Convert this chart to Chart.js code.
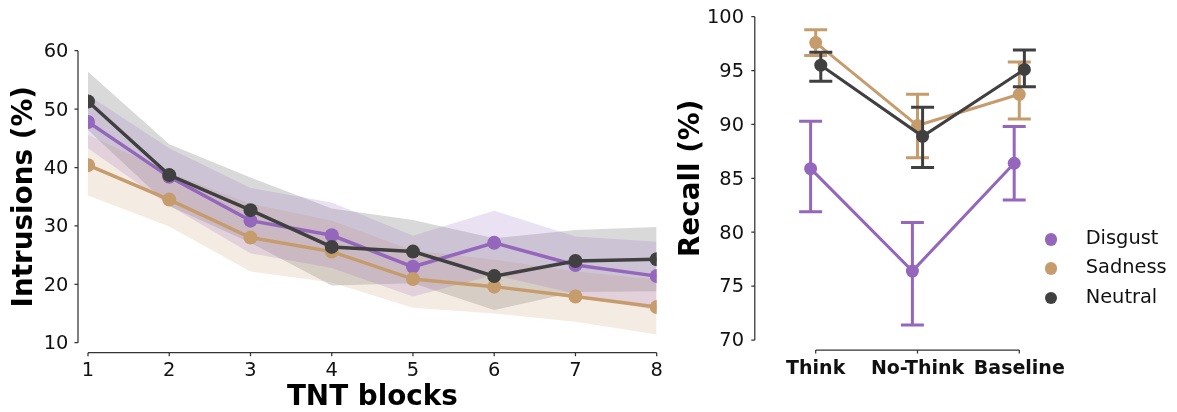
<!DOCTYPE html>
<html><head><meta charset="utf-8">
<script src="https://cdn.jsdelivr.net/npm/chart.js@4.4.1/dist/chart.umd.min.js"></script>
<style>
html,body{margin:0;padding:0;background:#fff;}
#wrap{position:relative;width:1177px;height:412px;overflow:hidden;font-family:'DejaVu Sans',sans-serif;background:#fff;}
canvas{position:absolute;top:0;}
#c1{left:0}
#c2{left:670px}
.lg-row{position:absolute;left:1085.7px;height:23px;line-height:23px;font-size:19.4px;color:#111;white-space:nowrap;}
.lg-dot{position:absolute;left:1044.8px;width:12.5px;height:12.5px;border-radius:50%;}
</style></head>
<body>
<div id="wrap">
<canvas id="c1" width="670" height="412"></canvas>
<canvas id="c2" width="507" height="412"></canvas>
<div id="legend"></div>
</div>
<script>
// ---------- data ----------
const seriesNames = ['Disgust', 'Sadness', 'Neutral'];
const seriesColors = ['#9467bd', '#c69c6d', '#404040'];

// left panel: intrusions per TNT block
const blocks = [1, 2, 3, 4, 5, 6, 7, 8];
const intrusionTicks = [10, 20, 30, 40, 50, 60];
const disgustIntr   = [47.8, 38.4, 30.9, 28.4, 23.0, 27.1, 23.3, 21.4];
const disgustIntrHi = [52.4, 43.3, 36.5, 34.0, 28.3, 32.6, 28.2, 27.3];
const disgustIntrLo = [43.3, 33.5, 25.3, 22.8, 17.9, 21.6, 18.4, 15.5];
const sadnessIntr   = [40.4, 34.5, 28.0, 25.6, 20.9, 19.6, 17.9, 16.1];
const sadnessIntrHi = [45.6, 39.1, 33.8, 30.9, 25.8, 24.2, 22.2, 20.8];
const sadnessIntrLo = [35.2, 29.9, 22.2, 20.3, 16.0, 15.0, 13.6, 11.4];
const neutralIntr   = [51.3, 38.7, 32.7, 26.4, 25.6, 21.4, 24.0, 24.3];
const neutralIntrHi = [56.4, 44.0, 38.3, 33.0, 31.0, 27.9, 29.3, 29.8];
const neutralIntrLo = [46.4, 33.4, 27.1, 19.8, 20.2, 15.6, 18.7, 18.8];

// right panel: recall per condition
const conditions = ['Think', 'No-Think', 'Baseline'];
const recallTicks = [70, 75, 80, 85, 90, 95, 100];
const disgustRecall   = [85.9, 76.4, 86.4];
const disgustRecallHi = [90.3, 80.9, 89.8];
const disgustRecallLo = [81.9, 71.4, 83.0];
const sadnessRecall   = [97.6, 89.9, 92.8];
const sadnessRecallHi = [98.8, 92.8, 95.8];
const sadnessRecallLo = [96.4, 86.9, 90.5];
const neutralRecall   = [95.5, 88.9, 95.1];
const neutralRecallHi = [96.7, 91.6, 96.9];
const neutralRecallLo = [94.0, 86.0, 93.5];

// ---------- style ----------
const FONT = "'DejaVu Sans', sans-serif";
Chart.defaults.font.family = FONT;
Chart.defaults.color = '#111';
const dodges = [-0.05, 0, 0.05];
const HIDDEN = 'rgba(0,0,0,0)';

function rgba(hex, a) {
  const n = parseInt(hex.slice(1), 16);
  return `rgba(${(n >> 16) & 255},${(n >> 8) & 255},${n & 255},${a})`;
}

const spines = {
  id: 'spines',
  afterDraw(chart, args, o) {
    const {ctx, chartArea: a, scales: {x, y}} = chart;
    const off = o.offset, tl = o.tickLength;
    const yt = y.ticks.map(t => y.getPixelForValue(t.value));
    const xt = x.ticks.map(t => x.getPixelForValue(t.value));
    const sx = a.left - off, sy = a.bottom + off;
    ctx.save();
    ctx.strokeStyle = o.color; ctx.lineWidth = o.width; ctx.lineCap = 'butt';
    ctx.beginPath();
    ctx.moveTo(sx, Math.min(...yt)); ctx.lineTo(sx, Math.max(...yt));
    yt.forEach(p => { ctx.moveTo(sx, p); ctx.lineTo(sx - tl, p); });
    ctx.moveTo(Math.min(...xt), sy); ctx.lineTo(Math.max(...xt), sy);
    xt.forEach(p => { ctx.moveTo(p, sy); ctx.lineTo(p, sy + tl); });
    ctx.stroke();
    ctx.restore();
  }
};

// invisible tick marks used only as label offsets
function gridOff(len) {
  return {display: false, drawOnChartArea: false, drawTicks: true, tickLength: len, tickColor: HIDDEN};
}

// ---------- left chart ----------
const intrTable = [
  {mean: disgustIntr, hi: disgustIntrHi, lo: disgustIntrLo},
  {mean: sadnessIntr, hi: sadnessIntrHi, lo: sadnessIntrLo},
  {mean: neutralIntr, hi: neutralIntrHi, lo: neutralIntrLo},
];
const leftDatasets = [];
intrTable.forEach((s, k) => {
  const col = seriesColors[k];
  leftDatasets.push({
    label: seriesNames[k],
    data: blocks.map((b, i) => ({x: b, y: s.mean[i]})),
    borderColor: col, backgroundColor: col, borderWidth: 3.5,
    pointRadius: 7, pointBorderWidth: 0, pointBackgroundColor: col,
    tension: 0, fill: false, order: 2 - k
  });
  leftDatasets.push({
    data: blocks.map((b, i) => ({x: b, y: s.hi[i]})),
    borderColor: HIDDEN, borderWidth: 0, pointRadius: 0,
    backgroundColor: rgba(col, 0.2), fill: '+1', tension: 0, order: 20 + k
  });
  leftDatasets.push({
    data: blocks.map((b, i) => ({x: b, y: s.lo[i]})),
    borderColor: HIDDEN, borderWidth: 0, pointRadius: 0,
    backgroundColor: HIDDEN, fill: false, tension: 0, order: 30 + k
  });
});

new Chart(document.getElementById('c1'), {
  type: 'line',
  data: {datasets: leftDatasets},
  plugins: [spines],
  options: {
    responsive: false, animation: false, devicePixelRatio: 1, events: [],
    layout: {padding: {left: 0, right: 13.3, top: 50.7, bottom: 0}},
    plugins: {
      legend: {display: false}, tooltip: {enabled: false},
      filler: {propagate: false, drawTime: 'beforeDatasetsDraw'},
      spines: {offset: 10, tickLength: 3.5, color: '#333', width: 1.25}
    },
    scales: {
      x: {
        type: 'linear', min: 1, max: 8,
        afterBuildTicks: sc => { sc.ticks = blocks.map(v => ({value: v})); },
        afterFit: sc => { sc.height = 412 - 342.7; },
        grid: gridOff(16.9), border: {display: false},
        ticks: {autoSkip: false, maxRotation: 0, minRotation: 0, padding: 0,
                font: {size: 19.4}, color: '#111', callback: v => String(v)},
        title: {display: true, text: 'TNT blocks', color: '#000',
                font: {size: 27.8, weight: 'bold', lineHeight: 1}, padding: {top: 0, bottom: 0}}
      },
      y: {
        type: 'linear', min: 10, max: 60,
        afterBuildTicks: sc => { sc.ticks = intrusionTicks.map(v => ({value: v})); },
        afterFit: sc => { sc.width = 88; },
        grid: gridOff(19.7), border: {display: false},
        ticks: {padding: 0, labelOffset: 1.5, font: {size: 19.4}, color: '#111'},
        title: {display: true, text: 'Intrusions (%)', color: '#000',
                font: {size: 27.8, weight: 'bold', lineHeight: 1}, padding: {top: 11, bottom: 0}}
      }
    }
  }
});

// ---------- right chart ----------
const recTable = [
  {mean: disgustRecall, hi: disgustRecallHi, lo: disgustRecallLo},
  {mean: sadnessRecall, hi: sadnessRecallHi, lo: sadnessRecallLo},
  {mean: neutralRecall, hi: neutralRecallHi, lo: neutralRecallLo},
];
const rightDatasets = [];
recTable.forEach((s, k) => {
  const col = seriesColors[k], d = dodges[k];
  rightDatasets.push({
    label: seriesNames[k],
    data: conditions.map((c, i) => ({x: i + d, y: s.mean[i]})),
    borderColor: col, backgroundColor: col, borderWidth: 3,
    pointRadius: 6.5, pointBorderWidth: 0, pointBackgroundColor: col,
    tension: 0, fill: false, order: (2 - k) * 2
  });
  conditions.forEach((c, i) => {
    rightDatasets.push({
      data: [{x: i + d, y: s.lo[i]}, {x: i + d, y: s.hi[i]}],
      borderColor: col, borderWidth: 3, fill: false,
      pointStyle: 'line', pointRadius: 11.5, pointBorderWidth: 3,
      pointBorderColor: col, pointBackgroundColor: col,
      order: (2 - k) * 2 + 1
    });
  });
});

new Chart(document.getElementById('c2'), {
  type: 'line',
  data: {datasets: rightDatasets},
  plugins: [spines],
  options: {
    responsive: false, animation: false, devicePixelRatio: 1, events: [],
    layout: {padding: {left: 0, right: 507 - (1070.2 - 670), top: 16.7, bottom: 0}},
    plugins: {
      legend: {display: false}, tooltip: {enabled: false},
      spines: {offset: 10, tickLength: 3.5, color: '#333', width: 1.25}
    },
    scales: {
      x: {
        type: 'linear', min: -0.5, max: 2.5,
        afterBuildTicks: sc => { sc.ticks = conditions.map((c, i) => ({value: i})); },
        afterFit: sc => { sc.height = 412 - 340; },
        grid: gridOff(17.3), border: {display: false},
        ticks: {autoSkip: false, maxRotation: 0, minRotation: 0, padding: 0,
                font: {size: 19, weight: 'bold'}, color: '#111',
                callback: v => conditions[Math.round(v)]}
      },
      y: {
        type: 'linear', min: 70, max: 100,
        afterBuildTicks: sc => { sc.ticks = recallTicks.map(v => ({value: v})); },
        afterFit: sc => { sc.width = 764.8 - 670; },
        grid: gridOff(20.8), border: {display: false},
        ticks: {padding: 0, labelOffset: 1.3, font: {size: 19.4}, color: '#111'},
        title: {display: true, text: 'Recall (%)', color: '#000',
                font: {size: 27.8, weight: 'bold', lineHeight: 1}, padding: {top: 8, bottom: 0}}
      }
    }
  }
});

// ---------- legend (HTML, real text) ----------
const lg = document.getElementById('legend');
const rowCenters = [239.3, 268.6, 297.9];
seriesNames.forEach((n, k) => {
  const dot = document.createElement('div');
  dot.className = 'lg-dot';
  dot.style.top = (rowCenters[k] - 6.25) + 'px';
  dot.style.background = seriesColors[k];
  lg.appendChild(dot);
  const row = document.createElement('div');
  row.className = 'lg-row';
  row.style.top = (rowCenters[k] - 2.1 - 11.1) + 'px';
  row.textContent = n;
  lg.appendChild(row);
});
</script>
</body></html>
